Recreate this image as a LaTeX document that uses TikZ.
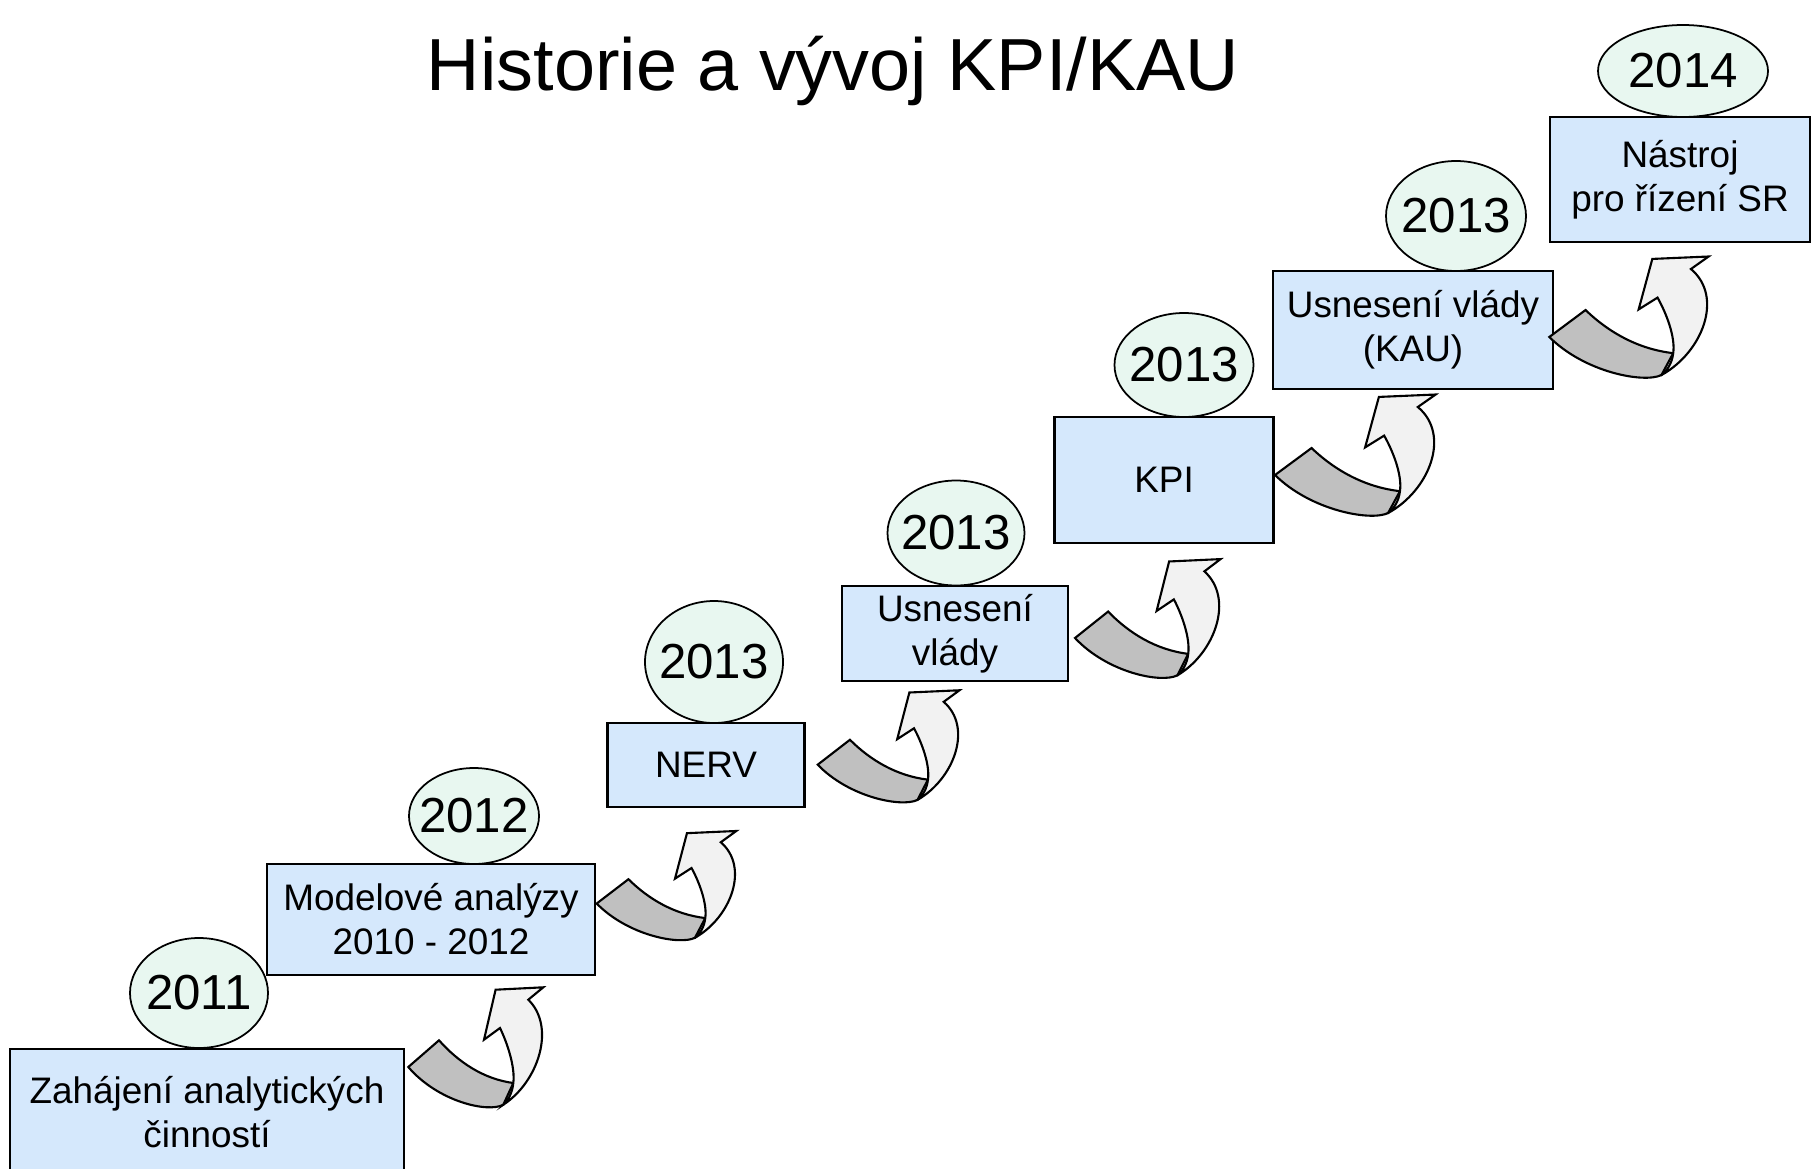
\documentclass[tikz,border=0pt]{standalone}
\usepackage{fontspec}
\setmainfont{Liberation Sans}
\usepackage{tikz}
\usetikzlibrary{shapes.geometric}

\definecolor{boxblue}{RGB}{213,232,252}
\definecolor{yeargreen}{RGB}{232,247,240}
\definecolor{banddark}{RGB}{192,192,192}
\definecolor{bandlight}{RGB}{242,242,242}

\begin{document}
\begin{tikzpicture}[
    box/.style={draw, fill=boxblue, line width=0.6pt, align=center, inner sep=0pt,
        font=\fontsize{10.5}{12.5}\selectfont},
    year/.style={draw, ellipse, fill=yeargreen, line width=0.5pt,
        inner xsep=-0.2cm, inner ysep=0pt, font=\fontsize{14}{16}\selectfont},
    band/.style={draw, line width=0.6pt, line join=miter}
]
    \useasboundingbox (0,0) rectangle (18.16,11.68);

    % Title
    \node[anchor=base, font=\fontsize{21}{24}\selectfont] (title) at (8.33,10.777)
        {Historie a vývoj KPI/KAU};

    % Steps of the staircase
    \node[box, minimum width=3.94cm, minimum height=1.26cm] (zahajeni) at (2.07,0.56)
        {Zahájení analytických\\činností};
    \node[box, minimum width=3.28cm, minimum height=1.11cm] (modelove) at (4.31,2.485)
        {Modelové analýzy\\2010 - 2012};
    \node[box, minimum width=1.97cm, minimum height=0.84cm] (nerv) at (7.06,4.033)
        {NERV};
    \node[box, minimum width=2.26cm, minimum height=0.95cm] (usneseni) at (9.55,5.345)
        {Usnesení\\vlády};
    \node[box, minimum width=2.19cm, minimum height=1.26cm] (kpi) at (11.64,6.883)
        {KPI};
    \node[box, minimum width=2.80cm, minimum height=1.18cm] (kau) at (14.13,8.38)
        {Usnesení vlády\\(KAU)};
    \node[box, minimum width=2.60cm, minimum height=1.25cm] (nastroj) at (16.80,9.885)
        {Nástroj\\pro řízení SR};

    % Years above the steps
    \node[year, minimum width=1.38cm, minimum height=1.10cm] (y2011) at (1.99,1.75) {2011};
    \node[year, minimum width=1.30cm, minimum height=0.96cm] (y2012) at (4.74,3.52) {2012};
    \node[year, minimum width=1.38cm, minimum height=1.22cm] (y2013a) at (7.14,5.06) {2013};
    \node[year, minimum width=1.37cm, minimum height=1.05cm] (y2013b) at (9.56,6.35) {2013};
    \node[year, minimum width=1.39cm, minimum height=1.04cm] (y2013c) at (11.84,8.03) {2013};
    \node[year, minimum width=1.40cm, minimum height=1.10cm] (y2013d) at (14.56,9.52) {2013};
    \node[year, minimum width=1.70cm, minimum height=0.92cm] (y2014) at (16.83,10.97) {2014};

    % Curved arrows between the steps
    \foreach \ax/\ay/\sx/\sy in {4.083/1.01/1.0/1.0, 5.967/2.645/1.034/0.91,
        8.177/4.033/1.05/0.934, 10.75/5.30/1.078/0.99,
        12.75/6.93/1.19/1.01, 15.493/8.31/1.18/1.01} {
        \begin{scope}[shift={(\ax,\ay)}, xscale=\sx, yscale=\sy]
            \draw[band, fill=banddark] (0,0) -- (0.307,0.267)
                .. controls (0.50,0.05) and (0.75,-0.12) .. (1.05,-0.16)
                -- (0.95,-0.377)
                .. controls (0.80,-0.46) and (0.30,-0.35) .. cycle;
            \draw[band, fill=bandlight] (0.95,-0.377)
                .. controls (1.30,-0.15) and (1.48,0.40) .. (1.20,0.673)
                -- (1.35,0.797) -- (0.873,0.773) -- (0.757,0.273) -- (0.917,0.39)
                .. controls (0.99,0.24) and (1.07,0.0) .. (1.05,-0.16)
                .. controls (1.04,-0.26) and (1.00,-0.33) .. cycle;
        \end{scope}
    }
\end{tikzpicture}
\end{document}
